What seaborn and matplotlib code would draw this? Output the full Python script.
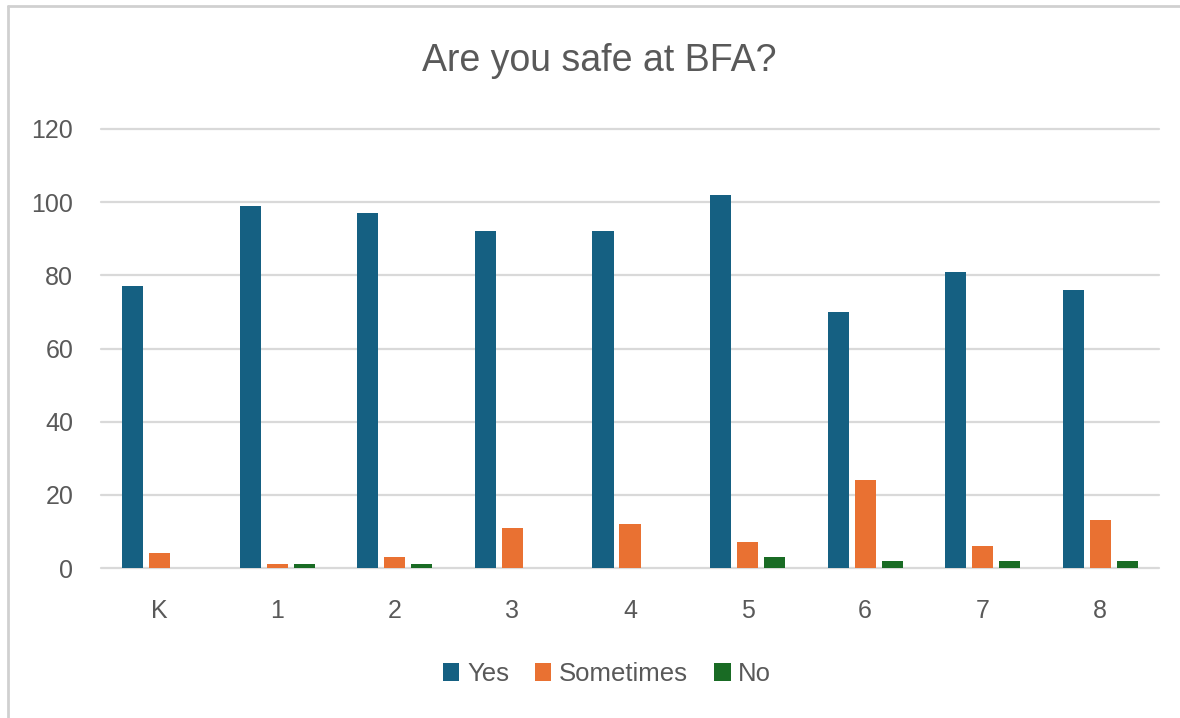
import matplotlib
matplotlib.use("Agg")
import matplotlib.pyplot as plt
from matplotlib.lines import Line2D
import seaborn as sns
import pandas as pd

grades = ["K", "1", "2", "3", "4", "5", "6", "7", "8"]
responses = ["Yes", "Sometimes", "No"]
yes_vals = [77, 99, 97, 92, 92, 102, 70, 81, 76]
sometimes_vals = [4, 1, 3, 11, 12, 7, 24, 6, 13]
no_vals = [0, 1, 1, 0, 0, 3, 2, 2, 2]
colors = ["#156082", "#E97132", "#196B24"]
y_ticks = [0, 20, 40, 60, 80, 100, 120]

rows = []
for name, vals in zip(responses, [yes_vals, sometimes_vals, no_vals]):
    for g, v in zip(grades, vals):
        rows.append({"Grade": g, "Response": name, "Count": v})
df = pd.DataFrame(rows)

sns.set_theme(style="white")
plt.rcParams["font.family"] = ["Liberation Sans", "DejaVu Sans"]

text_color = "#595959"
grid_color = "#d9d9d9"

fig = plt.figure(figsize=(11.8, 7.18), dpi=100)
ax = fig.add_axes([101 / 1180, 1 - 568 / 718, (1159 - 101) / 1180, (568 - 129) / 718])

sns.barplot(data=df, x="Grade", y="Count", hue="Response", order=grades,
            hue_order=responses, palette=colors, saturation=1, width=0.69, gap=0.22,
            linewidth=0, ax=ax, legend=True)

ax.set_ylim(0, 120)
ax.set_xlim(-0.5, 8.5)
ax.set_yticks(y_ticks)
ax.set_yticklabels([str(t) for t in y_ticks])
ax.set_xlabel("")
ax.set_ylabel("")
for s in ax.spines.values():
    s.set_visible(False)
ax.set_axisbelow(True)
ax.yaxis.grid(True, color=grid_color, linewidth=1.6)
ax.xaxis.grid(False)
for line in ax.get_ygridlines():
    line.set_clip_on(False)
ax.tick_params(axis="y", length=0, pad=20, labelsize=18, labelcolor=text_color)
ax.tick_params(axis="x", length=0, pad=22, labelsize=18, labelcolor=text_color)

handles, labels = ax.get_legend_handles_labels()
ax.get_legend().remove()
fig.legend(handles, labels, loc="center", bbox_to_anchor=(607 / 1180, 1 - 674 / 718),
           ncol=3, frameon=False, fontsize=18.5, labelcolor=text_color,
           handlelength=0.65, handleheight=0.65, handletextpad=0.3, columnspacing=1.0)

fig.text(599.5 / 1180, 1 - 61 / 718, "Are you safe at BFA?", ha="center", va="center",
         fontsize=27, color=text_color)

# outer chart border (left and top visible in reference)
fig.add_artist(Line2D([7.5 / 1180, 7.5 / 1180], [0, 1 - 6 / 718], transform=fig.transFigure,
                      color="#d0d0d0", linewidth=2))
fig.add_artist(Line2D([7.5 / 1180, 1], [1 - 6 / 718, 1 - 6 / 718], transform=fig.transFigure,
                      color="#d0d0d0", linewidth=2))

fig.savefig("out.png", dpi=100, facecolor="white")
